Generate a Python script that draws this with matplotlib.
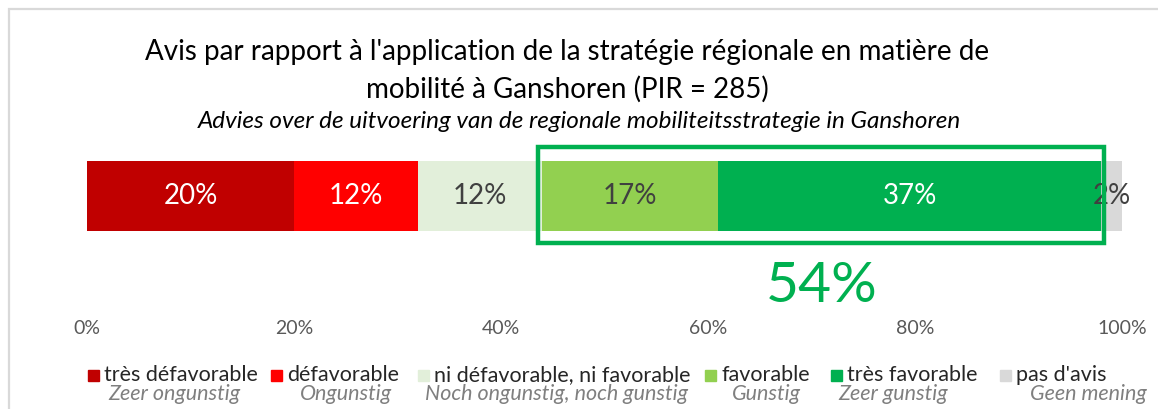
import matplotlib.pyplot as plt
from matplotlib.patches import Rectangle

plt.rcParams['font.family'] = ['Lato', 'DejaVu Sans']

# data
categories = ["très défavorable", "défavorable", "ni défavorable, ni favorable",
              "favorable", "très favorable", "pas d'avis"]
categories_nl = ["Zeer ongunstig", "Ongunstig", "Noch ongunstig, noch gunstig",
                 "Gunstig", "Zeer gunstig", "Geen mening"]
shares = [20, 12, 12, 17, 37, 2]
colors = ["#C00000", "#FF0000", "#E2EFDA", "#92D050", "#00B050", "#D9D9D9"]
label_colors = ["white", "white", "#404040", "#404040", "white", "#404040"]
xticks = [0, 20, 40, 60, 80, 100]
favorable_idx = [3, 4]

title = ("Avis par rapport à l'application de la stratégie régionale en matière de\n"
         "mobilité à Ganshoren (PIR = 285)")
subtitle = "Advies over de uitvoering van de regionale mobiliteitsstrategie in Ganshoren"

W, H = 1158, 409
fig = plt.figure(figsize=(W / 100, H / 100), dpi=100)

# outer frame (light grey, cropped on right/bottom)
fig.patches.append(Rectangle((9 / W, -0.1), 1.2, (H - 9) / H + 0.1,
                             transform=fig.transFigure, fill=False,
                             edgecolor="#D9D9D9", lw=1.6))

ax = fig.add_axes([87 / W, (H - 310) / H, 1035 / W, 170 / H])
left = 0
for v, c, tc in zip(shares, colors, label_colors):
    ax.barh(0, v, left=left, height=1.0, color=c, edgecolor="none", zorder=2)
    ax.text(left + v / 2, 0, f"{v}%", ha="center", va="center",
            fontsize=20, color=tc, zorder=3)
    left += v

# box around the favourable answers
fav_start = sum(shares[:favorable_idx[0]])
fav_total = sum(shares[i] for i in favorable_idx)
ax.add_patch(Rectangle((fav_start - 0.4, -0.67), fav_total + 0.7, 1.37,
                       fill=False, edgecolor="#00B050", lw=3.2, zorder=5))
ax.text(fav_start + fav_total / 2, -1.3, f"{fav_total}%", ha="center", va="center",
        fontsize=41, color="#00B050")

ax.set_xlim(0, 100)
ax.set_ylim(-1.629, 0.8)
ax.set_xticks(xticks)
ax.set_xticklabels([f"{t}%" for t in xticks], fontsize=14, color="#595959")
ax.tick_params(axis="x", length=0, pad=7)
ax.set_yticks([])
for s in ax.spines.values():
    s.set_visible(False)

fig.text(567 / W, 1 - 71 / H, title, ha="center", va="center", fontsize=20,
         color="#000000", linespacing=1.5)
fig.text(579 / W, 1 - 121 / H, subtitle, ha="center", va="center", fontsize=17.5,
         style="italic", color="#000000")

# legend, French on top and Dutch in grey italics below
sq_x = [88, 271, 418, 705, 831, 1000]
nl_x = [108, 300, 425, 732, 838, 1030]
for c, fr, nl, sx, nx in zip(colors, categories, categories_nl, sq_x, nl_x):
    fig.patches.append(Rectangle((sx / W, 1 - 381 / H), 11 / W, 11 / H,
                                 transform=fig.transFigure, color=c))
    fig.text((sx + 16) / W, 1 - 375 / H, fr, ha="left", va="center",
             fontsize=15.5, color="#262626")
    fig.text(nx / W, 1 - 394 / H, nl, ha="left", va="center",
             fontsize=15.5, style="italic", color="#7F7F7F")

fig.savefig("out.png", dpi=100)
